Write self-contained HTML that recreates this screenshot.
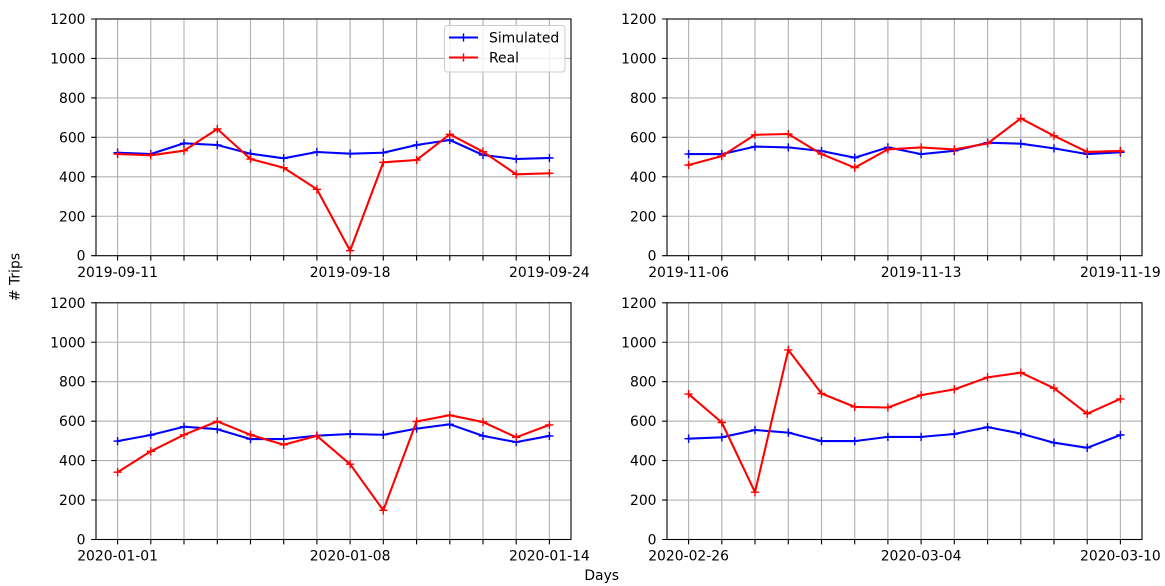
<!DOCTYPE html>
<html><head><meta charset="utf-8"><style>
html,body{margin:0;padding:0;background:#fff;}
svg{display:block;}
text{font-family:"DejaVu Sans","Liberation Sans",sans-serif;font-size:13.9px;fill:#000;}
</style></head><body>
<svg width="1165" height="586" viewBox="0 0 1165 586" xmlns="http://www.w3.org/2000/svg">
<defs>
<marker id="mb" markerUnits="userSpaceOnUse" markerWidth="12" markerHeight="12" refX="6" refY="6" overflow="visible"><path d="M1.85 6H10.15M6 1.85V10.15" stroke="#0000ff" stroke-width="1.4" fill="none"/></marker>
<marker id="mr" markerUnits="userSpaceOnUse" markerWidth="12" markerHeight="12" refX="6" refY="6" overflow="visible"><path d="M1.85 6H10.15M6 1.85V10.15" stroke="#ff0000" stroke-width="1.4" fill="none"/></marker>
<g id="vgL" stroke="#b0b0b0" stroke-width="1.1">
<path d="M117.6 0v1M150.8 0v1M184 0v1M217.3 0v1M250.5 0v1M283.7 0v1M316.9 0v1M350.1 0v1M383.3 0v1M416.6 0v1M449.8 0v1M483 0v1M516.2 0v1M549.4 0v1"/>
</g>
</defs>

<!-- ===== Panel grids ===== -->
<g stroke="#b0b0b0" stroke-width="1.1" fill="none">
<!-- top-left -->
<path d="M117.6 19V255.7M150.8 19V255.7M184 19V255.7M217.3 19V255.7M250.5 19V255.7M283.7 19V255.7M316.9 19V255.7M350.1 19V255.7M383.3 19V255.7M416.6 19V255.7M449.8 19V255.7M483 19V255.7M516.2 19V255.7M549.4 19V255.7"/>
<path d="M96 216.25H571M96 176.8H571M96 137.35H571M96 97.9H571M96 58.45H571"/>
<!-- top-right -->
<path d="M688.6 19V255.7M721.8 19V255.7M755 19V255.7M788.3 19V255.7M821.5 19V255.7M854.7 19V255.7M887.9 19V255.7M921.1 19V255.7M954.3 19V255.7M987.6 19V255.7M1020.8 19V255.7M1054 19V255.7M1087.2 19V255.7M1120.4 19V255.7"/>
<path d="M667 216.25H1142M667 176.8H1142M667 137.35H1142M667 97.9H1142M667 58.45H1142"/>
<!-- bottom-left -->
<path d="M117.6 302.8V539.5M150.8 302.8V539.5M184 302.8V539.5M217.3 302.8V539.5M250.5 302.8V539.5M283.7 302.8V539.5M316.9 302.8V539.5M350.1 302.8V539.5M383.3 302.8V539.5M416.6 302.8V539.5M449.8 302.8V539.5M483 302.8V539.5M516.2 302.8V539.5M549.4 302.8V539.5"/>
<path d="M96 500.05H571M96 460.6H571M96 421.15H571M96 381.7H571M96 342.25H571"/>
<!-- bottom-right -->
<path d="M688.6 302.8V539.5M721.8 302.8V539.5M755 302.8V539.5M788.3 302.8V539.5M821.5 302.8V539.5M854.7 302.8V539.5M887.9 302.8V539.5M921.1 302.8V539.5M954.3 302.8V539.5M987.6 302.8V539.5M1020.8 302.8V539.5M1054 302.8V539.5M1087.2 302.8V539.5M1120.4 302.8V539.5"/>
<path d="M667 500.05H1142M667 460.6H1142M667 421.15H1142M667 381.7H1142M667 342.25H1142"/>
</g>

<!-- ===== Series ===== -->
<g fill="none" stroke-width="2.08" stroke-linejoin="round" stroke-linecap="square">
<!-- TL -->
<polyline stroke="#0000ff" marker-start="url(#mb)" marker-mid="url(#mb)" marker-end="url(#mb)"
 points="117.6,152.7 150.8,154 184,143.3 217.3,145 250.5,153.7 283.7,158.3 316.9,152 350.1,153.7 383.3,152.7 416.6,145 449.8,140 483,155 516.2,159 549.4,158"/>
<polyline stroke="#ff0000" marker-start="url(#mr)" marker-mid="url(#mr)" marker-end="url(#mr)"
 points="117.6,154 150.8,155.3 184,150.7 217.3,129 250.5,159 283.7,167.7 316.9,189.3 350.1,250.7 383.3,162.3 416.6,160 449.8,134.3 483,151.7 516.2,174.3 549.4,173.3"/>
<!-- TR -->
<polyline stroke="#0000ff" marker-start="url(#mb)" marker-mid="url(#mb)" marker-end="url(#mb)"
 points="688.6,154.1 721.8,154.1 755,146.6 788.3,147.4 821.5,151 854.7,157.7 887.9,147.4 921.1,154.1 954.3,150.8 987.6,142.7 1020.8,143.7 1054,148.4 1087.2,154.1 1120.4,152.3"/>
<polyline stroke="#ff0000" marker-start="url(#mr)" marker-mid="url(#mr)" marker-end="url(#mr)"
 points="688.6,165 721.8,156.1 755,134.8 788.3,134 821.5,154.1 854.7,167.7 887.9,149.4 921.1,147.4 954.3,149.4 987.6,143.5 1020.8,118.4 1054,135.8 1087.2,151.9 1120.4,151"/>
<!-- BL -->
<polyline stroke="#0000ff" marker-start="url(#mb)" marker-mid="url(#mb)" marker-end="url(#mb)"
 points="117.6,441.1 150.8,435 184,426.7 217.3,429.2 250.5,439.1 283.7,439.1 316.9,435.7 350.1,434 383.3,434.8 416.6,428.6 449.8,424.3 483,435.9 516.2,442.1 549.4,435.9"/>
<polyline stroke="#ff0000" marker-start="url(#mr)" marker-mid="url(#mr)" marker-end="url(#mr)"
 points="117.6,472.2 150.8,451.3 184,434.8 217.3,421.4 250.5,434.8 283.7,444.8 316.9,435.9 350.1,464.2 383.3,510.3 416.6,421.5 449.8,415.2 483,422 516.2,437.3 549.4,424.9"/>
<!-- BR -->
<polyline stroke="#0000ff" marker-start="url(#mb)" marker-mid="url(#mb)" marker-end="url(#mb)"
 points="688.6,438.7 721.8,437.3 755,430 788.3,432.6 821.5,441.1 854.7,441.1 887.9,436.9 921.1,436.9 954.3,434 987.6,427.1 1020.8,433.6 1054,442.7 1087.2,447.8 1120.4,435"/>
<polyline stroke="#ff0000" marker-start="url(#mr)" marker-mid="url(#mr)" marker-end="url(#mr)"
 points="688.6,394.1 721.8,422.5 755,492.2 788.3,349.9 821.5,393.5 854.7,406.9 887.9,407.5 921.1,395.1 954.3,389.4 987.6,377.4 1020.8,372.6 1054,388.2 1087.2,413.7 1120.4,398.9"/>
</g>

<!-- ===== Spines & ticks ===== -->
<g fill="none" stroke="#000" stroke-width="1.1">
<rect x="96" y="19" width="475" height="236.7"/>
<rect x="667" y="19" width="475" height="236.7"/>
<rect x="96" y="302.8" width="475" height="236.7"/>
<rect x="667" y="302.8" width="475" height="236.7"/>
<!-- x ticks -->
<path d="M117.6 255.7v4.9M150.8 255.7v4.9M184 255.7v4.9M217.3 255.7v4.9M250.5 255.7v4.9M283.7 255.7v4.9M316.9 255.7v4.9M350.1 255.7v4.9M383.3 255.7v4.9M416.6 255.7v4.9M449.8 255.7v4.9M483 255.7v4.9M516.2 255.7v4.9M549.4 255.7v4.9"/>
<path d="M688.6 255.7v4.9M721.8 255.7v4.9M755 255.7v4.9M788.3 255.7v4.9M821.5 255.7v4.9M854.7 255.7v4.9M887.9 255.7v4.9M921.1 255.7v4.9M954.3 255.7v4.9M987.6 255.7v4.9M1020.8 255.7v4.9M1054 255.7v4.9M1087.2 255.7v4.9M1120.4 255.7v4.9"/>
<path d="M117.6 539.5v4.9M150.8 539.5v4.9M184 539.5v4.9M217.3 539.5v4.9M250.5 539.5v4.9M283.7 539.5v4.9M316.9 539.5v4.9M350.1 539.5v4.9M383.3 539.5v4.9M416.6 539.5v4.9M449.8 539.5v4.9M483 539.5v4.9M516.2 539.5v4.9M549.4 539.5v4.9"/>
<path d="M688.6 539.5v4.9M721.8 539.5v4.9M755 539.5v4.9M788.3 539.5v4.9M821.5 539.5v4.9M854.7 539.5v4.9M887.9 539.5v4.9M921.1 539.5v4.9M954.3 539.5v4.9M987.6 539.5v4.9M1020.8 539.5v4.9M1054 539.5v4.9M1087.2 539.5v4.9M1120.4 539.5v4.9"/>
<!-- y ticks -->
<path d="M96 255.7h-4.9M96 216.25h-4.9M96 176.8h-4.9M96 137.35h-4.9M96 97.9h-4.9M96 58.45h-4.9M96 19h-4.9"/>
<path d="M667 255.7h-4.9M667 216.25h-4.9M667 176.8h-4.9M667 137.35h-4.9M667 97.9h-4.9M667 58.45h-4.9M667 19h-4.9"/>
<path d="M96 539.5h-4.9M96 500.05h-4.9M96 460.6h-4.9M96 421.15h-4.9M96 381.7h-4.9M96 342.25h-4.9M96 302.8h-4.9"/>
<path d="M667 539.5h-4.9M667 500.05h-4.9M667 460.6h-4.9M667 421.15h-4.9M667 381.7h-4.9M667 342.25h-4.9M667 302.8h-4.9"/>
</g>

<!-- ===== Y tick labels ===== -->
<g text-anchor="end">
<text x="85.5" y="260.7">0</text><text x="85.5" y="221.25">200</text><text x="85.5" y="181.8">400</text><text x="85.5" y="142.35">600</text><text x="85.5" y="102.9">800</text><text x="85.5" y="63.45">1000</text><text x="85.5" y="24">1200</text>
<text x="656.5" y="260.7">0</text><text x="656.5" y="221.25">200</text><text x="656.5" y="181.8">400</text><text x="656.5" y="142.35">600</text><text x="656.5" y="102.9">800</text><text x="656.5" y="63.45">1000</text><text x="656.5" y="24">1200</text>
<text x="85.5" y="544.5">0</text><text x="85.5" y="505.05">200</text><text x="85.5" y="465.6">400</text><text x="85.5" y="426.15">600</text><text x="85.5" y="386.7">800</text><text x="85.5" y="347.25">1000</text><text x="85.5" y="307.8">1200</text>
<text x="656.5" y="544.5">0</text><text x="656.5" y="505.05">200</text><text x="656.5" y="465.6">400</text><text x="656.5" y="426.15">600</text><text x="656.5" y="386.7">800</text><text x="656.5" y="347.25">1000</text><text x="656.5" y="307.8">1200</text>
</g>

<!-- ===== X tick labels ===== -->
<g text-anchor="middle">
<text x="117.6" y="277">2019-09-11</text><text x="350.1" y="277">2019-09-18</text><text x="549.4" y="277">2019-09-24</text>
<text x="688.6" y="277">2019-11-06</text><text x="921.1" y="277">2019-11-13</text><text x="1120.4" y="277">2019-11-19</text>
<text x="117.6" y="560.3">2020-01-01</text><text x="350.1" y="560.3">2020-01-08</text><text x="549.4" y="560.3">2020-01-14</text>
<text x="688.6" y="560.3">2020-02-26</text><text x="921.1" y="560.3">2020-03-04</text><text x="1120.4" y="560.3">2020-03-10</text>
</g>

<!-- ===== Legend ===== -->
<rect x="444.5" y="25.5" width="120.5" height="46.5" rx="3" ry="3" fill="#ffffff" fill-opacity="0.8" stroke="#cccccc" stroke-width="1"/>
<path d="M449 37.5H478" stroke="#0000ff" stroke-width="2.08"/>
<path d="M459.35 37.5h8.3M463.5 33.35v8.3" stroke="#0000ff" stroke-width="1.4"/>
<path d="M449 57.5H478" stroke="#ff0000" stroke-width="2.08"/>
<path d="M459.35 57.5h8.3M463.5 53.35v8.3" stroke="#ff0000" stroke-width="1.4"/>
<text x="489" y="42.5">Simulated</text>
<text x="489" y="62.5">Real</text>

<!-- ===== Axis labels ===== -->
<text x="601.7" y="580" text-anchor="middle">Days</text>
<text transform="translate(19.5 277) rotate(-90)" text-anchor="middle">#  Trips</text>
</svg>
</body></html>
